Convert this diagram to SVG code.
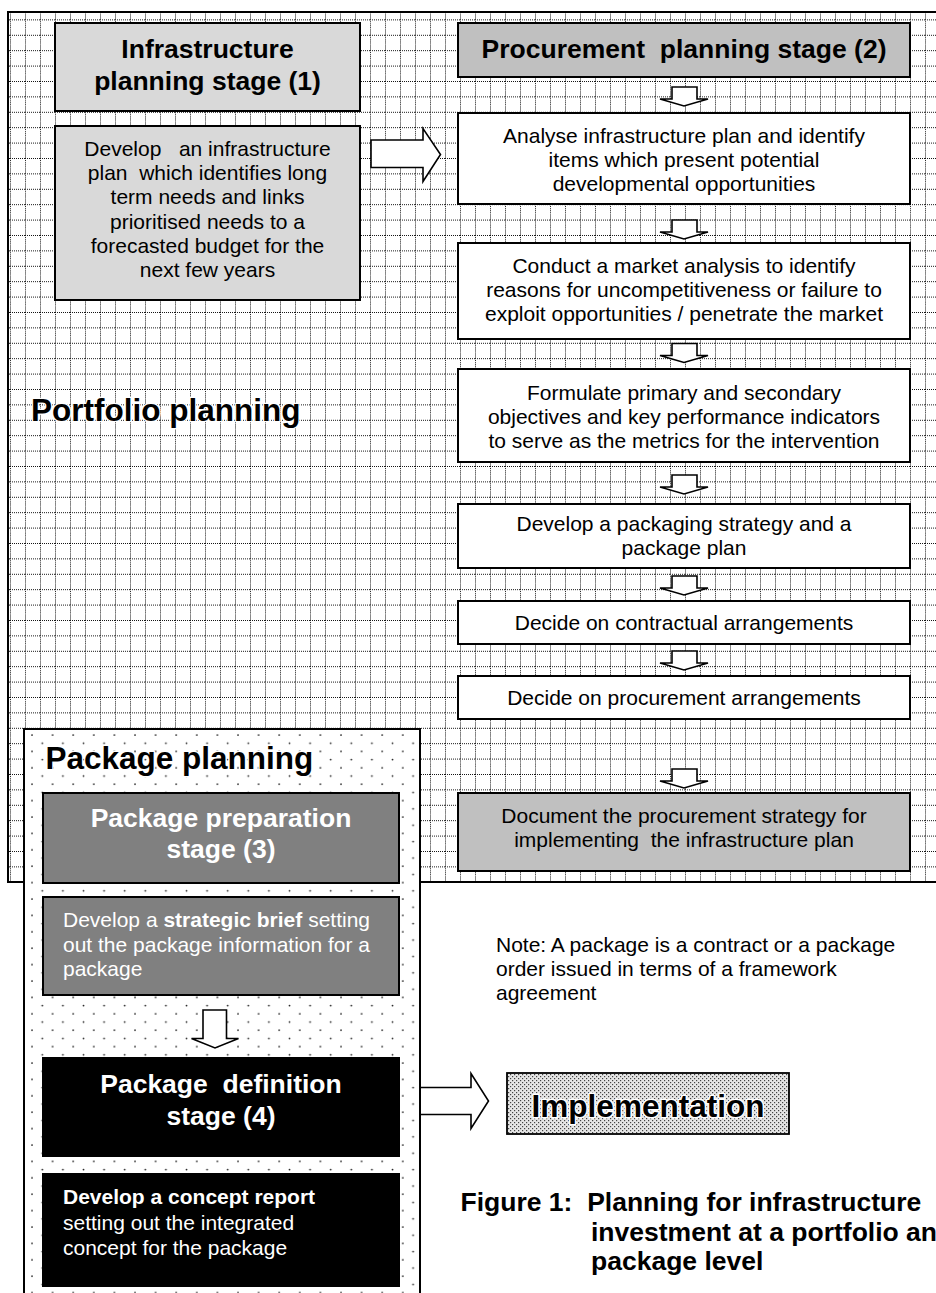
<svg xmlns="http://www.w3.org/2000/svg" width="936" height="1293" viewBox="0 0 936 1293">
<style>
text{font-family:"Liberation Sans",Arial,sans-serif;white-space:pre;fill:#000}
.r{font-size:21px}
.h{font-size:26.5px;font-weight:bold}
.big{font-size:31.5px;font-weight:bold;paint-order:stroke;stroke:#fff;stroke-width:2.5px;stroke-linejoin:round}
.c{text-anchor:middle}
.w{fill:#fff}
.box{stroke:#000;stroke-width:2}
.arr{fill:#fff;stroke:#000;stroke-width:1.6;stroke-linejoin:miter}
</style>
<defs>
<pattern id="grid" patternUnits="userSpaceOnUse" x="10" y="4" width="15" height="15.4">
<rect width="15" height="15.4" fill="#fff"/>
<line x1="0.5" y1="0" x2="0.5" y2="15.4" stroke="#111" stroke-width="1" stroke-dasharray="1 1"/>
<line x1="0" y1="0.5" x2="15" y2="0.5" stroke="#111" stroke-width="1" stroke-dasharray="1 1"/>
</pattern>
<pattern id="dots" patternUnits="userSpaceOnUse" x="30" y="733" width="20.6" height="16.4">
<rect width="20.6" height="16.4" fill="#fff"/>
<circle cx="2" cy="2" r="0.9" fill="#222"/>
<circle cx="12.3" cy="10.2" r="0.9" fill="#222"/>
</pattern>
<pattern id="stip" patternUnits="userSpaceOnUse" width="4" height="4">
<rect width="4" height="4" fill="#e6e6e6"/>
<rect x="0" y="0" width="1.2" height="1.2" fill="#444"/>
<rect x="2" y="2" width="1.2" height="1.2" fill="#444"/>
</pattern>
</defs>
<rect width="936" height="1293" fill="#fff"/>

<g id="portfolio-planning">
<rect x="8" y="12" width="940" height="870" fill="url(#grid)" stroke="#000" stroke-width="2"/>
<text class="big" x="31" y="421">Portfolio planning</text>
</g>

<g id="infrastructure-stage">
<rect class="box" x="55" y="23" width="305" height="88" fill="#d9d9d9"/>
<text class="h c" x="207.5" y="58">Infrastructure</text>
<text class="h c" x="207.5" y="90">planning stage (1)</text>
</g>

<g id="infrastructure-plan">
<rect class="box" x="55" y="126" width="305" height="174" fill="#d9d9d9"/>
<text class="r c" x="207.5" y="156">Develop   an infrastructure</text>
<text class="r c" x="207.5" y="180">plan  which identifies long</text>
<text class="r c" x="207.5" y="204">term needs and links</text>
<text class="r c" x="207.5" y="228.5">prioritised needs to a</text>
<text class="r c" x="207.5" y="253">forecasted budget for the</text>
<text class="r c" x="207.5" y="277">next few years</text>
</g>

<g id="procurement-stage">
<rect class="box" x="458" y="23" width="452" height="54" fill="#c0c0c0"/>
<text class="h c" x="684" y="58">Procurement  planning stage (2)</text>
</g>

<g id="analyse">
<rect class="box" x="458" y="113" width="452" height="91" fill="#fff"/>
<text class="r c" x="684" y="143">Analyse infrastructure plan and identify</text>
<text class="r c" x="684" y="167">items which present potential</text>
<text class="r c" x="684" y="191">developmental opportunities</text>
</g>

<g id="market-analysis">
<rect class="box" x="458" y="243" width="452" height="96" fill="#fff"/>
<text class="r c" x="684" y="273">Conduct a market analysis to identify</text>
<text class="r c" x="684" y="297">reasons for uncompetitiveness or failure to</text>
<text class="r c" x="684" y="321">exploit opportunities / penetrate the market</text>
</g>

<g id="objectives">
<rect class="box" x="458" y="369" width="452" height="93" fill="#fff"/>
<text class="r c" x="684" y="400">Formulate primary and secondary</text>
<text class="r c" x="684" y="424">objectives and key performance indicators</text>
<text class="r c" x="684" y="448">to serve as the metrics for the intervention</text>
</g>

<g id="packaging-strategy">
<rect class="box" x="458" y="504" width="452" height="64" fill="#fff"/>
<text class="r c" x="684" y="531">Develop a packaging strategy and a</text>
<text class="r c" x="684" y="555">package plan</text>
</g>

<g id="contractual">
<rect class="box" x="458" y="601" width="452" height="43" fill="#fff"/>
<text class="r c" x="684" y="630">Decide on contractual arrangements</text>
</g>

<g id="procurement-arrangements">
<rect class="box" x="458" y="676" width="452" height="43" fill="#fff"/>
<text class="r c" x="684" y="705">Decide on procurement arrangements</text>
</g>

<g id="document-strategy">
<rect class="box" x="458" y="793" width="452" height="78" fill="#c0c0c0"/>
<text class="r c" x="684" y="823">Document the procurement strategy for</text>
<text class="r c" x="684" y="847">implementing  the infrastructure plan</text>
</g>

<g id="package-planning">
<rect x="24" y="729" width="396" height="580" fill="url(#dots)" stroke="#000" stroke-width="2"/>
<text class="big" x="45.5" y="769">Package planning</text>
</g>

<g id="package-preparation">
<rect class="box" x="43" y="793" width="356" height="90" fill="#808080"/>
<text class="h c w" x="221" y="827">Package preparation</text>
<text class="h c w" x="221" y="858">stage (3)</text>
</g>

<g id="strategic-brief">
<rect class="box" x="43" y="897" width="356" height="98" fill="#808080"/>
<text class="r w" x="63" y="926.5">Develop a <tspan font-weight="bold">strategic brief</tspan> setting</text>
<text class="r w" x="63" y="951.5">out the package information for a</text>
<text class="r w" x="63" y="976">package</text>
</g>

<g id="package-definition">
<rect class="box" x="43" y="1058" width="356" height="98" fill="#000"/>
<text class="h c w" x="221" y="1093">Package  definition</text>
<text class="h c w" x="221" y="1125">stage (4)</text>
</g>

<g id="concept-report">
<rect class="box" x="43" y="1174" width="356" height="112" fill="#000"/>
<text class="r w" x="63" y="1204" font-weight="bold">Develop a concept report</text>
<text class="r w" x="63" y="1230">setting out the integrated</text>
<text class="r w" x="63" y="1255">concept for the package</text>
</g>

<g id="implementation">
<rect x="507" y="1073" width="282" height="61" fill="url(#stip)" stroke="#000" stroke-width="1.8"/>
<text class="big c" x="648" y="1117" style="stroke-width:3px">Implementation</text>
</g>

<g id="note">
<text class="r" x="496" y="951.5">Note: A package is a contract or a package</text>
<text class="r" x="496" y="975.5">order issued in terms of a framework</text>
<text class="r" x="496" y="1000">agreement</text>
</g>

<g id="caption">
<text class="h" x="460.5" y="1211">Figure 1:  Planning for infrastructure</text>
<text class="h" x="591" y="1241">investment at a portfolio an</text>
<text class="h" x="591" y="1270">package level</text>
</g>

<g id="connectors">
<path class="arr" d="M371,140 H423 V128.5 L440.5,154.5 L423,181.5 V167.5 H371 Z"/>
<path class="arr" d="M672,87 H697 V99 H708 L684,106 L660,99 H672 Z"/>
<path class="arr" d="M672,220 H697 V232 H708 L684,239 L660,232 H672 Z"/>
<path class="arr" d="M672,343.5 H697 V355.5 H708 L684,362.5 L660,355.5 H672 Z"/>
<path class="arr" d="M672,475 H697 V487 H708 L684,494 L660,487 H672 Z"/>
<path class="arr" d="M672,576 H697 V588 H708 L684,595 L660,588 H672 Z"/>
<path class="arr" d="M672,651 H697 V663 H708 L684,670 L660,663 H672 Z"/>
<path class="arr" d="M672,769 H697 V781 H708 L684,788 L660,781 H672 Z"/>
<path class="arr" d="M203,1010 H226.5 V1038.5 H238.5 L215,1048 L191.5,1038.5 H203 Z"/>
<path class="arr" d="M421,1087.5 H471 V1073.5 L488.5,1101 L471,1128.5 V1114.5 H421"/>
</g>
</svg>
